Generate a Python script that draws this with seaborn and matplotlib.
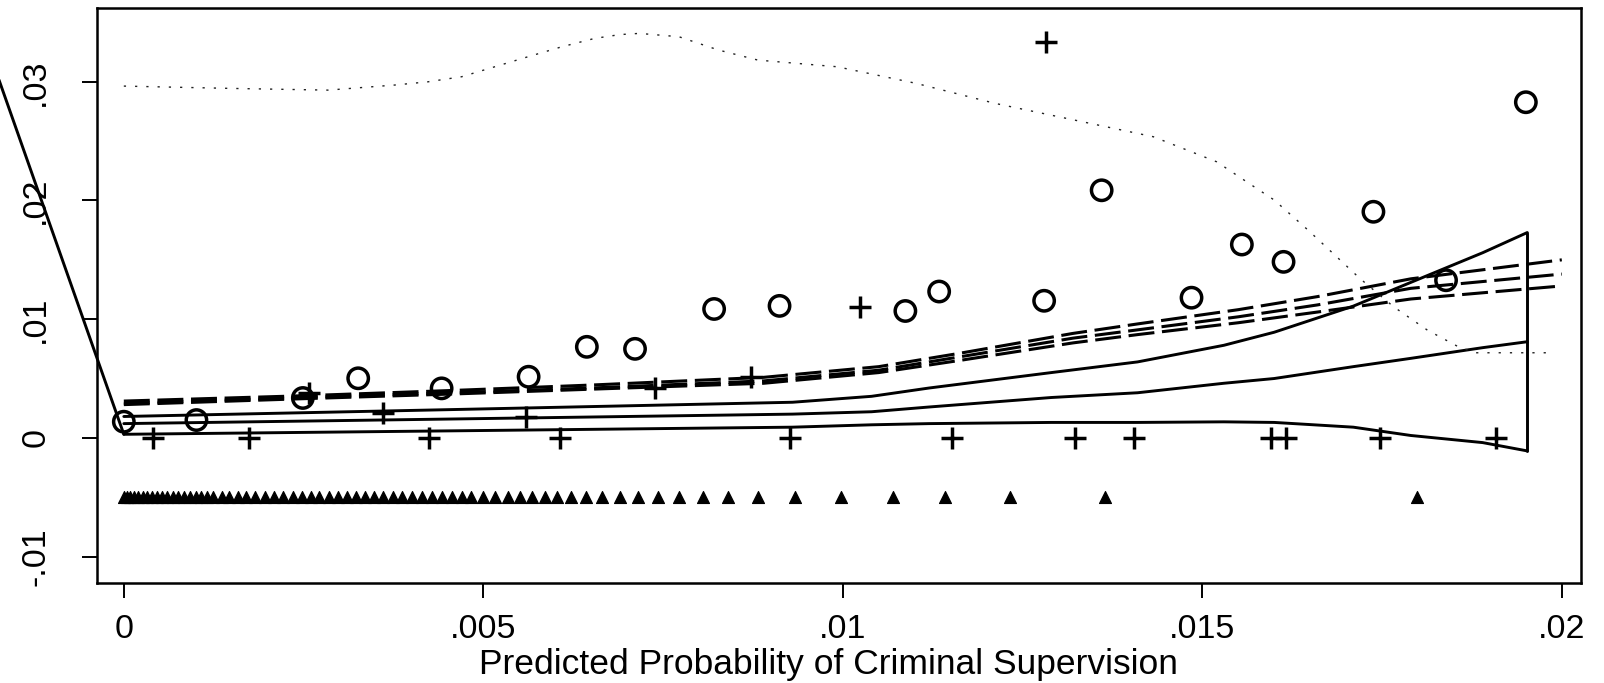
import numpy as np
import pandas as pd
import matplotlib
matplotlib.use("Agg")
import matplotlib.pyplot as plt
import seaborn as sns

# ---------------- data ----------------
# binned observed means (hollow circles)
circ_x = [0.0, 0.00101, 0.00249, 0.00326, 0.00442, 0.00563, 0.00644, 0.00711, 0.00821,
          0.00912, 0.01087, 0.01134, 0.0128, 0.0136, 0.01485, 0.01555, 0.01613,
          0.01738, 0.01839, 0.0195]
circ_y = [0.00136, 0.0015, 0.00336, 0.00502, 0.00417, 0.00515, 0.00767, 0.0075, 0.01086,
          0.01112, 0.01069, 0.01233, 0.01155, 0.02086, 0.01181, 0.01629, 0.01483,
          0.01905, 0.01328, 0.02828]

# second group (plus markers)
plus_x = [0.00041, 0.00174, 0.00258, 0.0036, 0.00424, 0.00559, 0.00606, 0.00739, 0.00872,
          0.00927, 0.01024, 0.01152, 0.01283, 0.01323, 0.01405, 0.01596, 0.01617,
          0.01747, 0.01908]
plus_y = [0.0, 0.0, 0.0038, 0.00207, 0.0, 0.00178, 0.0, 0.0042, 0.00515,
          0.0, 0.01105, 0.0, 0.03339, 0.0, 0.0, 0.0, 0.0,
          0.0, 0.0]

# rug of predicted probabilities (triangles)
rug_x = [0.0, 0.00004, 0.00009, 0.00014, 0.0002, 0.00026, 0.00032, 0.00039, 0.00046,
         0.00053, 0.0006, 0.00068, 0.00076, 0.00084, 0.00092, 0.001, 0.00108, 0.00116,
         0.00124, 0.00137, 0.00146, 0.00159, 0.0017, 0.00183, 0.00196, 0.00209, 0.00221,
         0.00235, 0.00248, 0.0026, 0.00272, 0.00285, 0.00298, 0.0031, 0.00323, 0.00335,
         0.00348, 0.00361, 0.00374, 0.00387, 0.00401, 0.00415, 0.00429, 0.00443, 0.00456,
         0.0047, 0.00483, 0.005, 0.00516, 0.00534, 0.00551, 0.00568, 0.00586, 0.00603,
         0.00622, 0.00643, 0.00665, 0.0069, 0.00715, 0.00743, 0.00772, 0.00806, 0.0084,
         0.00882, 0.00934, 0.00998, 0.0107, 0.01142, 0.01233, 0.01365, 0.01799]
rug_level = -0.005

# dashed fit with band
dash_x = [0.0, 0.0025, 0.0046, 0.0065, 0.0089, 0.0105, 0.0116, 0.0132, 0.0141, 0.0155,
          0.0166, 0.0179, 0.0200]
dash_hi = [0.0031, 0.00355, 0.0040, 0.00445, 0.0051, 0.0060, 0.0071, 0.0088, 0.0096,
           0.0108, 0.0119, 0.0134, 0.0150]
dash_mid = [0.0029, 0.0034, 0.0038, 0.0042, 0.0048, 0.0057, 0.0068, 0.0084, 0.0091,
            0.0102, 0.0112, 0.0126, 0.0138]
dash_lo = [0.0028, 0.0033, 0.0037, 0.0041, 0.0046, 0.0055, 0.0065, 0.0080, 0.0087,
           0.0097, 0.0106, 0.0117, 0.0128]

# solid prediction with band
sol_x = [0.0, 0.0047, 0.0093, 0.0104, 0.0112, 0.0129, 0.0141, 0.0153, 0.0160, 0.0171,
         0.0179, 0.0189, 0.01952]
sol_hi = [0.0018, 0.0024, 0.0030, 0.0035, 0.0042, 0.0055, 0.0064, 0.0078, 0.0089, 0.0111,
          0.0131, 0.0156, 0.0173]
sol_mid = [0.0012, 0.0016, 0.0020, 0.0022, 0.0026, 0.0034, 0.0038, 0.0046, 0.0050, 0.0060,
           0.0067, 0.0076, 0.0081]
sol_lo = [0.0003, 0.0006, 0.0009, 0.0011, 0.0012, 0.0013, 0.0013, 0.00135, 0.0013, 0.0009,
          0.0002, -0.0004, -0.0011]

# closing segment of band outline (runs off the plot region)
diag_x = [-0.004, 0.0]
diag_y = [0.0691, 0.0003]

# density (dotted)
dens_x = [0.0, 0.00145, 0.00284, 0.00377, 0.00423, 0.0047, 0.00516, 0.00562, 0.00609,
          0.00655, 0.0069, 0.00717, 0.00772, 0.00827, 0.00882, 0.00992, 0.01102, 0.01212,
          0.01322, 0.01432, 0.0152, 0.01565, 0.016, 0.01647, 0.01719, 0.01766, 0.01813,
          0.01856, 0.0188, 0.01989]
dens_y = [0.02964, 0.02945, 0.0293, 0.02973, 0.0300, 0.03043, 0.03127, 0.03211, 0.03295,
          0.03366, 0.03398, 0.03408, 0.0338, 0.03268, 0.03183, 0.03127, 0.02987, 0.02818,
          0.02678, 0.02537, 0.02326, 0.02144, 0.02004, 0.01751, 0.01344, 0.01105, 0.00908,
          0.00768, 0.00717, 0.00717]

xticks = [0, 0.005, 0.01, 0.015, 0.02]
xticklabels = ["0", ".005", ".01", ".015", ".02"]
yticks = [-0.01, 0, 0.01, 0.02, 0.03]
yticklabels = ["-.01", "0", ".01", ".02", ".03"]
xlabel = "Predicted Probability of Criminal Supervision"

# ---------------- plot ----------------
sns.set_theme(style="white")
plt.rcParams["font.family"] = ["Liberation Sans", "DejaVu Sans"]
plt.rcParams["text.color"] = "black"
plt.rcParams["axes.labelcolor"] = "black"

fig = plt.figure(figsize=(16.04, 6.83), dpi=100)
ax = fig.add_axes([97 / 1604, 1 - 583 / 683, (1581 - 97) / 1604, (583 - 8) / 683])

LW = 2.1
# solid band
for ys in (sol_hi, sol_mid, sol_lo):
    sns.lineplot(x=sol_x, y=ys, ax=ax, color="black", lw=LW, estimator=None, sort=False)
sns.lineplot(x=[sol_x[-1], sol_x[-1]], y=[sol_hi[-1], sol_lo[-1]], ax=ax, color="black",
             lw=LW, estimator=None, sort=False)
sns.lineplot(x=diag_x, y=diag_y, ax=ax, color="black", lw=LW, estimator=None, sort=False)
ax.lines[-1].set_clip_on(False)

# dashed band
for ys in (dash_hi, dash_mid, dash_lo):
    sns.lineplot(x=dash_x, y=ys, ax=ax, color="black", lw=2.2, estimator=None, sort=False,
                 dashes=False)
    ax.lines[-1].set_dashes((8.5, 2.5))

# density dotted
sns.lineplot(x=dens_x, y=dens_y, ax=ax, color="#222222", lw=1.0, estimator=None, sort=False)
ax.lines[-1].set_dashes((1.6, 6.5))

# rug triangles
sns.scatterplot(x=rug_x, y=[rug_level] * len(rug_x), ax=ax, marker="^", s=75,
                color="black", edgecolor="black", linewidth=0.8, zorder=3)
# circles
sns.scatterplot(x=circ_x, y=circ_y, ax=ax, marker="o", s=215, facecolors="none",
                edgecolor="black", linewidth=2.5, zorder=4)
# plus
sns.scatterplot(x=plus_x, y=plus_y, ax=ax, marker="+", s=240, color="black",
                linewidth=2.5, zorder=4)

ax.set_xlim(-0.000373, 0.020267)
ax.set_ylim(-0.01223, 0.03622)
ax.set_xticks(xticks)
ax.set_xticklabels(xticklabels, fontsize=24.5)
ax.set_yticks(yticks)
ax.set_yticklabels(yticklabels, rotation=90, va="center", fontsize=24.5)
ax.set_xlabel(xlabel, fontsize=25.5, color="black")
ax.xaxis.set_label_coords(0.493, -0.113)
ax.set_ylabel("")
ax.tick_params(axis="both", which="major", direction="out", length=11, width=1.4,
               color="black", labelcolor="black", bottom=True, left=True)
ax.tick_params(axis="x", pad=11)
ax.tick_params(axis="y", pad=22)
for sp in ax.spines.values():
    sp.set_visible(True)
    sp.set_color("black")
    sp.set_linewidth(1.8)
ax.set_facecolor("white")
fig.patch.set_facecolor("white")
ax.grid(False)

fig.savefig("out.png", dpi=100, facecolor="white")
